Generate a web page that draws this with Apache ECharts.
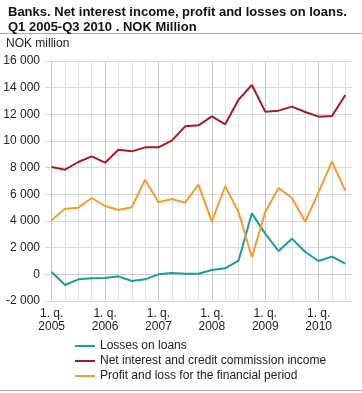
<!DOCTYPE html>
<html><head><meta charset="utf-8">
<script src="https://cdn.jsdelivr.net/npm/echarts@6/dist/echarts.min.js"></script>
<style>html,body{margin:0;padding:0;background:#fff}#c{width:362px;height:393px}</style>
</head><body><div id="c"></div>
<script>
const categories = ["1. q.\n2005","2. q.","3. q.","4. q.","1. q.\n2006","2. q.","3. q.","4. q.","1. q.\n2007","2. q.","3. q.","4. q.","1. q.\n2008","2. q.","3. q.","4. q.","1. q.\n2009","2. q.","3. q.","4. q.","1. q.\n2010","2. q.","3. q."];
const lossesOnLoans = [175,-800,-375,-300,-275,-150,-500,-375,0,100,50,50,325,450,1025,4575,3050,1750,2675,1675,1000,1325,800];
const netInterest = [8050,7850,8425,8850,8375,9350,9225,9525,9525,10025,11100,11175,11850,11250,13100,14200,12200,12275,12575,12175,11825,11875,13450];
const profitLoss = [4050,4925,5000,5725,5125,4825,5025,7100,5400,5650,5375,6725,3950,6625,4675,1275,4675,6475,5725,3950,6175,8450,6275];
const seriesNames = ["Losses on loans","Net interest and credit commission income","Profit and loss for the financial period"];
const yTicks = {min:-2000,max:16000,interval:2000};

const chart = echarts.init(document.getElementById('c'));
const font = 'Liberation Sans, Arial, sans-serif';
const fmt = v => { const s = Math.abs(v).toString().replace(/\B(?=(\d{3})+(?!\d))/g,' '); return (v<0?'-':'')+s; };
const colors = ['#1a9c97','#a51b24','#f59c2a'];
chart.setOption({
  animation:false,
  textStyle:{fontFamily:font},
  title:{text:'Banks. Net interest income, profit and losses on loans.\nQ1 2005-Q3 2010 . NOK Million',left:3,top:0,
    textStyle:{fontFamily:font,fontSize:13,fontWeight:'bold',color:'#111',lineHeight:15}},
  graphic:[
    {type:'line',shape:{x1:0,y1:33.5,x2:362,y2:33.5},style:{stroke:'#aaa',lineWidth:1}},
    {type:'line',shape:{x1:0,y1:390.5,x2:362,y2:390.5},style:{stroke:'#aaa',lineWidth:1}},
    {type:'text',left:6,top:38,style:{text:'NOK million',font:'12px '+font,fill:'#222'}}
  ],
  grid:{left:45,right:10,top:61,bottom:92,containLabel:false},
  legend:{orient:'vertical',left:70,top:335,itemWidth:20,itemHeight:2,itemGap:3,icon:'rect',
    textStyle:{fontFamily:font,fontSize:12,color:'#222'},data:seriesNames},
  xAxis:{type:'category',data:categories,boundaryGap:true,
    axisLine:{show:true,lineStyle:{color:'#ccc'}},
    axisTick:{show:false,alignWithLabel:true,interval:0},
    axisLabel:{interval:(i)=>i%4===0,fontFamily:font,fontSize:12,color:'#222',lineHeight:13,margin:6},
    splitLine:{show:true,interval:0,alignWithLabel:true,lineStyle:{color:['#c6c6c6','#e0e0e0','#e0e0e0','#e0e0e0'],width:1}}
  },
  yAxis:{type:'value',min:yTicks.min,max:yTicks.max,interval:yTicks.interval,
    axisLine:{show:false},axisTick:{show:false},
    axisLabel:{formatter:fmt,fontFamily:font,fontSize:12,color:'#222',margin:5},
    splitLine:{lineStyle:{color:'#d9d9d9',width:1}}
  },
  series:[
    {name:seriesNames[0],type:'line',data:lossesOnLoans,symbol:'none',z:3,lineStyle:{width:2,color:colors[0]},itemStyle:{color:colors[0]}},
    {name:seriesNames[1],type:'line',data:netInterest,symbol:'none',z:3,lineStyle:{width:2,color:colors[1]},itemStyle:{color:colors[1]}},
    {name:seriesNames[2],type:'line',data:profitLoss,symbol:'none',z:3,lineStyle:{width:2,color:colors[2]},itemStyle:{color:colors[2]}}
  ]
});
</script></body></html>
